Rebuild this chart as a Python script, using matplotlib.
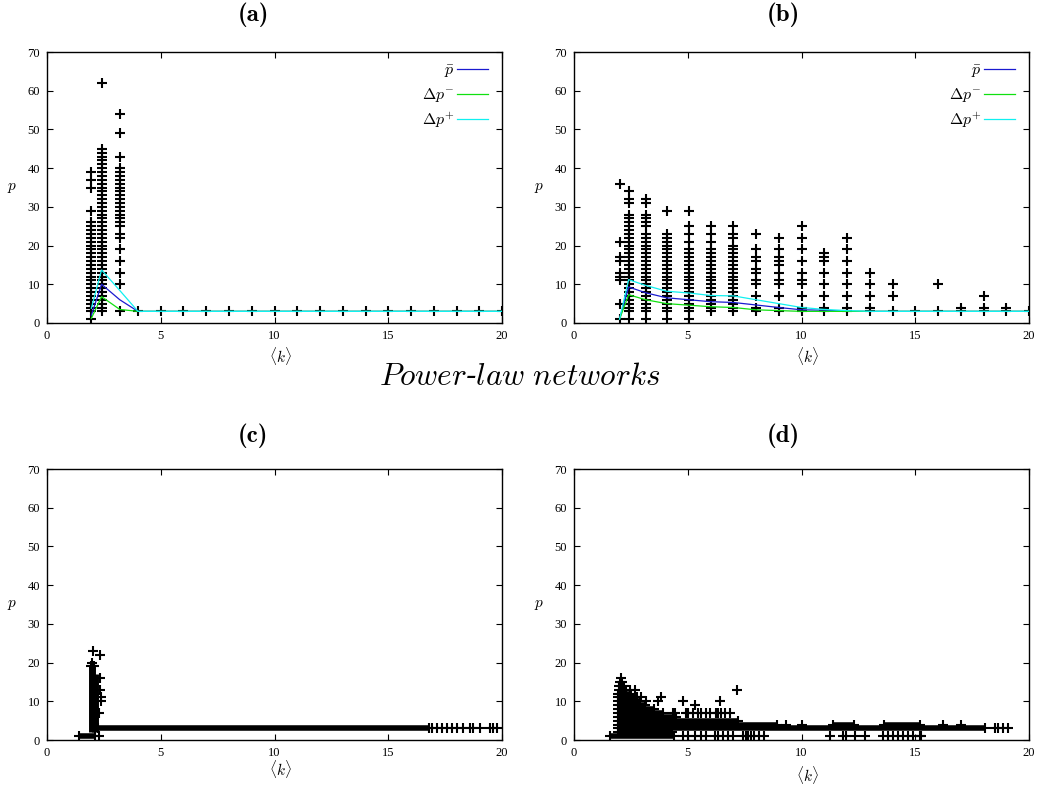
import matplotlib
matplotlib.use("Agg")
import matplotlib.pyplot as plt

plt.rcParams.update({
    "font.family": "Liberation Serif",
    "mathtext.fontset": "cm",
    "font.size": 8,
})

BLUE, GREEN, CYAN = "#1a1ad0", "#10e010", "#10f0f0"

# ---------------- (a) regular-ish, 3 dense columns + tail at p=3 ----------------
a_col_k = [1.95, 2.4, 3.2]
a_col_p = [
    [1, 3, 4, 5, 6, 7, 8, 9, 10, 11, 12, 13, 14, 15, 16, 17, 18, 19, 20, 21, 22,
     23, 24, 25, 26, 29, 35, 37, 39],
    [3, 4, 5, 6, 7, 8, 9, 10, 11, 12, 13, 14, 15, 16, 17, 18, 19, 20, 21, 22, 23,
     24, 25, 26, 27, 28, 29, 30, 31, 32, 33, 34, 35, 36, 37, 38, 39, 40, 41, 42,
     43, 44, 45, 62],
    [3, 10, 13, 16, 19, 22, 23, 25, 26, 27, 28, 29, 30, 31, 32, 33, 34, 35, 36,
     37, 38, 39, 40, 43, 49, 54],
]
a_tail_k = [4, 5, 6, 7, 8, 9, 10, 11, 12, 13, 14, 15, 16, 17, 18, 19, 20]
a_tail_p = [3, 3, 3, 3, 3, 3, 3, 3, 3, 3, 3, 3, 3, 3, 3, 3, 3]
a_line_k = [1.95, 2.4, 3.2, 4, 5, 6, 7, 8, 9, 10, 11, 12, 13, 14, 15, 16, 17, 18, 19, 20]
a_pbar = [2.0, 10.0, 6.0, 3, 3, 3, 3, 3, 3, 3, 3, 3, 3, 3, 3, 3, 3, 3, 3, 3]
a_dminus = [1.2, 6.8, 3.5, 3, 3, 3, 3, 3, 3, 3, 3, 3, 3, 3, 3, 3, 3, 3, 3, 3]
a_dplus = [3.8, 13.7, 8.4, 3, 3, 3, 3, 3, 3, 3, 3, 3, 3, 3, 3, 3, 3, 3, 3, 3]

# ---------------- (b) ----------------
b_col_k = [2.0, 2.4, 3.15, 4.07, 5.05, 6, 7, 8, 9, 10, 11, 12, 13, 14, 15, 16, 17, 18, 19, 20]
b_col_p = [
    [1, 5, 11, 12, 13, 16, 17, 21, 36],
    [1, 3, 4, 5, 6, 7, 8, 9, 10, 11, 12, 13, 14, 15, 16, 17, 18, 19, 20, 21, 22,
     23, 24, 25, 26, 27, 28, 31, 32, 34],
    [1, 3, 4, 5, 6, 7, 8, 9, 10, 11, 12, 13, 14, 15, 16, 17, 18, 19, 20, 21, 22,
     23, 25, 26, 27, 28, 31, 32],
    [1, 3, 4, 5, 6, 7, 8, 9, 10, 11, 12, 13, 14, 15, 16, 17, 18, 19, 20, 21, 22,
     23, 29],
    [1, 3, 4, 5, 6, 7, 8, 9, 10, 11, 12, 13, 14, 15, 16, 17, 18, 19, 21, 23, 25, 29],
    [3, 4, 5, 6, 7, 8, 9, 10, 11, 12, 13, 14, 15, 16, 17, 18, 19, 21, 23, 25],
    [3, 4, 5, 6, 7, 8, 9, 10, 11, 12, 13, 14, 15, 16, 17, 18, 19, 20, 22, 23, 25],
    [3, 4, 7, 10, 11, 13, 14, 16, 17, 19, 23],
    [3, 4, 7, 10, 11, 13, 15, 16, 17, 19, 22],
    [3, 4, 7, 10, 11, 13, 16, 19, 22, 25],
    [3, 4, 7, 10, 13, 16, 17, 18],
    [3, 4, 7, 10, 13, 16, 19, 22],
    [3, 4, 7, 10, 13],
    [3, 7, 10],
    [3],
    [3, 10],
    [3, 4],
    [3, 4, 7],
    [3, 4],
    [3],
]
b_pbar = [1, 9.3, 7.8, 6.5, 6.0, 5.5, 5.3, 4.65, 4.0, 3.4, 3.3, 3.0, 3, 3, 3, 3, 3, 3, 3, 3]
b_dminus = [1, 7.3, 6.0, 5.0, 4.6, 4.2, 4.0, 3.4, 3.2, 3.0, 3, 3, 3, 3, 3, 3, 3, 3, 3, 3]
b_dplus = [1, 11.2, 9.7, 8.2, 7.75, 7.1, 7.0, 6.0, 5.0, 4.0, 3.5, 3.2, 3.0, 3, 3, 3, 3, 3, 3, 3]

# ---------------- (c) dense runs (p, k_from, k_to) + loose points ----------------
c_run_p = [1, 3]
c_run_k0 = [1.42, 2.25]
c_run_k1 = [2.1, 16.8]
c_col_k = [1.98, 2.1]
c_col_p0 = [2.0, 2.0]
c_col_p1 = [19.5, 17.0]
c_pt_k = [2.04, 2.32, 2.35, 2.32, 2.38, 2.36, 2.28, 2.3, 1.95, 2.0, 2.06, 2.2,
          16.91, 17.13, 17.35, 17.57, 17.79, 18.01, 18.3, 18.59, 18.74, 19.03,
          19.47, 19.62, 19.77]
c_pt_p = [23, 22, 16, 13, 11, 10, 7, 1, 19, 20, 19, 12,
          3, 3, 3, 3, 3, 3, 3, 3, 3, 3, 3, 3, 3]

# ---------------- (d) ----------------
d_run_p = [1, 2, 3, 4, 4, 4, 5, 6, 7, 8, 9, 10, 11, 12, 13, 14, 15]
d_run_k0 = [1.56, 1.93, 1.93, 1.93, 11.4, 13.6, 1.93, 1.93, 1.93, 1.93, 1.93, 1.93, 1.95, 1.95, 1.97, 1.99, 2.02]
d_run_k1 = [4.4, 4.3, 18.05, 8.9, 12.3, 15.2, 7.2, 4.5, 3.9, 3.5, 3.1, 2.9, 2.7, 2.5, 2.3, 2.2, 2.1]
d_pt_k = [2.07, 2.48, 2.7, 2.75, 2.95, 3.8, 3.15, 3.7, 4.78, 6.42, 5.3, 7.17,
          4.35, 4.42, 4.93, 5.01, 5.22, 5.44, 5.6, 5.81, 5.99, 6.26, 6.32, 6.48, 6.62, 6.84,
          4.78, 5.0, 5.3, 5.59, 5.81, 6.18, 6.32, 6.54, 6.76, 6.98, 7.42, 7.57, 7.64,
          7.79, 7.93, 8.15, 8.37, 11.23, 11.82, 11.93, 12.33, 12.77, 13.57, 13.79,
          14.01, 14.23, 14.45, 14.67, 14.89, 15.19, 15.26,
          18.48, 18.63, 18.85, 19.07, 9.3, 10.0, 16.2, 17.0]
d_pt_p = [16, 13, 13, 11, 11, 11, 10, 10, 10, 10, 9, 13,
          7, 7, 7, 7, 7, 7, 7, 7, 7, 7, 7, 7, 7, 7,
          1, 1, 1, 1, 1, 1, 1, 1, 1, 1, 1, 1, 1, 1, 1, 1, 1, 1, 1, 1, 1, 1, 1, 1,
          1, 1, 1, 1, 1, 1, 1,
          3, 3, 3, 3, 4, 4, 4, 4]

MK = dict(ls="", marker="+", color="k", ms=6.5, mew=1.5)
RUN = dict(colors="k", lw=4.0, capstyle="butt")

fig = plt.figure(figsize=(10.39, 7.87), dpi=100)
W, H = 0.438, 0.3443
ax_a = fig.add_axes([0.0452, 0.5896, W, H])
ax_b = fig.add_axes([0.5525, 0.5896, W, H])
ax_c = fig.add_axes([0.0452, 0.0597, W, H])
ax_d = fig.add_axes([0.5525, 0.0597, W, H])


def style(ax, xlab_y):
    ax.set_xlim(0, 20); ax.set_ylim(0, 70)
    ax.set_xticks([0, 5, 10, 15, 20]); ax.set_yticks(range(0, 71, 10))
    ax.tick_params(direction="in", top=True, right=True, length=4, width=0.8,
                   labelsize=9, pad=5)
    for s in ax.spines.values():
        s.set_linewidth(1.0)
    ax.set_ylabel(r"$p$", rotation=0, fontsize=11, va="center", ha="center")
    ax.yaxis.set_label_coords(-0.077, 0.5)
    ax.set_xlabel(r"$\langle k\rangle$", fontsize=11, va="center")
    ax.xaxis.set_label_coords(0.512, xlab_y)


def lines(ax, k, pbar, dm, dp, anchor):
    l1, = ax.plot(k, pbar, color=BLUE, lw=0.9, label=r"$\bar{p}$", zorder=3)
    l2, = ax.plot(k, dm, color=GREEN, lw=0.9, label=r"$\Delta p^{-}$", zorder=3)
    l3, = ax.plot(k, dp, color=CYAN, lw=0.9, label=r"$\Delta p^{+}$", zorder=3)
    ax.legend(handles=[l1, l2, l3], loc="upper right", bbox_to_anchor=anchor,
              frameon=False, markerfirst=False, fontsize=11.5, handlelength=1.95,
              handletextpad=0.15, labelspacing=0.4, borderaxespad=0, borderpad=0)


def runs(ax, p, k0, k1):
    ax.hlines(p, k0, k1, **RUN)
    # ragged "+" ends of each dense run
    ax.plot(k0, p, **MK)
    ax.plot(k1, p, **MK)


# (a)
for k, ps in zip(a_col_k, a_col_p):
    ax_a.plot([k] * len(ps), ps, **MK)
ax_a.plot(a_tail_k, a_tail_p, **MK)
lines(ax_a, a_line_k, a_pbar, a_dminus, a_dplus, (0.969, 0.96))
style(ax_a, -0.122)

# (b)
for k, ps in zip(b_col_k, b_col_p):
    ax_b.plot([k] * len(ps), ps, **MK)
lines(ax_b, b_col_k, b_pbar, b_dminus, b_dplus, (0.969, 0.96))
style(ax_b, -0.122)

# (c)
runs(ax_c, c_run_p, c_run_k0, c_run_k1)
ax_c.vlines(c_col_k, c_col_p0, c_col_p1, colors="k", lw=5, capstyle="butt")
ax_c.plot(c_pt_k, c_pt_p, **MK)
style(ax_c, -0.107)

# (d)
runs(ax_d, d_run_p, d_run_k0, d_run_k1)
ax_d.plot(d_pt_k, d_pt_p, **MK)
style(ax_d, -0.129)

for x, y, s in [(0.2435, 0.981, "(a)"), (0.7536, 0.981, "(b)"),
                (0.2435, 0.446, "(c)"), (0.7536, 0.446, "(d)")]:
    fig.text(x, y, s, family="cmb10", fontsize=18, ha="center", va="center")

fig.text(0.5, 0.521, r"$\mathit{Power}$-$\mathit{law\ networks}$", fontsize=22.5,
         family="DejaVu Serif", style="italic", ha="center", va="center")

fig.savefig("out.png", dpi=100)
